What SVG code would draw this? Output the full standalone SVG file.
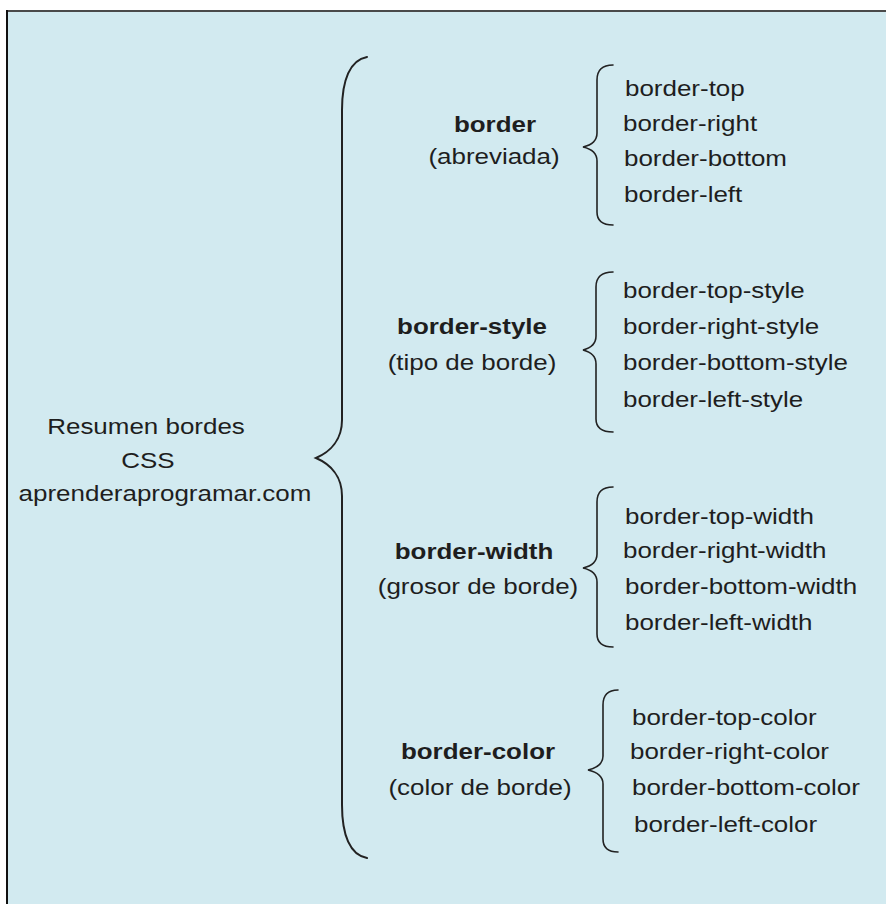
<svg xmlns="http://www.w3.org/2000/svg" width="886" height="904" viewBox="0 0 886 904">
<style>
text{font-family:"Liberation Sans",Arial,sans-serif;font-size:22px;fill:#1e1e1e}
.c{text-anchor:middle}
.b{font-weight:bold}
.br{fill:none;stroke:#222;stroke-width:1.6;stroke-linecap:round}
.big{stroke-width:2}
</style>
<rect x="0" y="0" width="886" height="904" fill="#ffffff"/>
<rect x="7" y="11" width="879" height="893" fill="#d2eaf0"/>
<line x1="7" y1="11" x2="886" y2="11" stroke="#4a4a4a" stroke-width="2"/>
<line x1="7" y1="10" x2="7" y2="904" stroke="#111" stroke-width="2"/>
<g id="connectors">
<path class="br big" d="M367,57 C350,60 342,80 342,110 L342,420 C342,440 330,452 316,458 C330,464 342,476 342,496 L342,805 C342,835 350,855 367,858"/>
<path class="br" d="M613,65 C603,65 597,70 597,80 L597,133 C597,140 592,145 583,147 C592,149 597,154 597,161 L597,212 C597,221 603,225 613,225"/>
<path class="br" d="M613,272 C602,272 596,277 596,287 L596,336 C596,343 591,348 583,350 C591,352 596,357 596,364 L596,419 C596,428 602,432 613,432"/>
<path class="br" d="M613,487 C603,487 597,492 597,502 L597,554 C597,561 592,566 583,568 C592,570 597,575 597,582 L597,634 C597,643 603,647 613,647"/>
<path class="br" d="M618,690 C608,690 603,695 603,705 L603,756 C603,763 597,768 588,770 C597,772 603,777 603,784 L603,839 C603,848 608,852 618,852"/>
</g>
<g id="root">
<text class="c" transform="translate(146,434) scale(1.18 1)">Resumen bordes</text>
<text class="c" transform="translate(148,468) scale(1.18 1)">CSS</text>
<text class="c" transform="translate(165,501) scale(1.18 1)">aprenderaprogramar.com</text>
</g>
<g id="border">
<text class="c b" transform="translate(495,132) scale(1.18 1)">border</text>
<text class="c" transform="translate(494,164) scale(1.18 1)">(abreviada)</text>
</g>
<g id="border-style">
<text class="c b" transform="translate(472,334) scale(1.18 1)">border-style</text>
<text class="c" transform="translate(472,370) scale(1.18 1)">(tipo de borde)</text>
</g>
<g id="border-width">
<text class="c b" transform="translate(474,559) scale(1.18 1)">border-width</text>
<text class="c" transform="translate(478,594) scale(1.18 1)">(grosor de borde)</text>
</g>
<g id="border-color">
<text class="c b" transform="translate(478,759) scale(1.18 1)">border-color</text>
<text class="c" transform="translate(480,795) scale(1.18 1)">(color de borde)</text>
</g>
<g id="border-list">
<text transform="translate(625,96) scale(1.18 1)">border-top</text>
<text transform="translate(623,131) scale(1.18 1)">border-right</text>
<text transform="translate(624,166) scale(1.18 1)">border-bottom</text>
<text transform="translate(624,202) scale(1.18 1)">border-left</text>
</g>
<g id="style-list">
<text transform="translate(623,298) scale(1.18 1)">border-top-style</text>
<text transform="translate(623,334) scale(1.18 1)">border-right-style</text>
<text transform="translate(623,370) scale(1.18 1)">border-bottom-style</text>
<text transform="translate(623,407) scale(1.18 1)">border-left-style</text>
</g>
<g id="width-list">
<text transform="translate(625,524) scale(1.18 1)">border-top-width</text>
<text transform="translate(623,558) scale(1.18 1)">border-right-width</text>
<text transform="translate(625,594) scale(1.18 1)">border-bottom-width</text>
<text transform="translate(625,630) scale(1.18 1)">border-left-width</text>
</g>
<g id="color-list">
<text transform="translate(632,725) scale(1.18 1)">border-top-color</text>
<text transform="translate(630,759) scale(1.18 1)">border-right-color</text>
<text transform="translate(632,795) scale(1.18 1)">border-bottom-color</text>
<text transform="translate(634,832) scale(1.18 1)">border-left-color</text>
</g>
</svg>
